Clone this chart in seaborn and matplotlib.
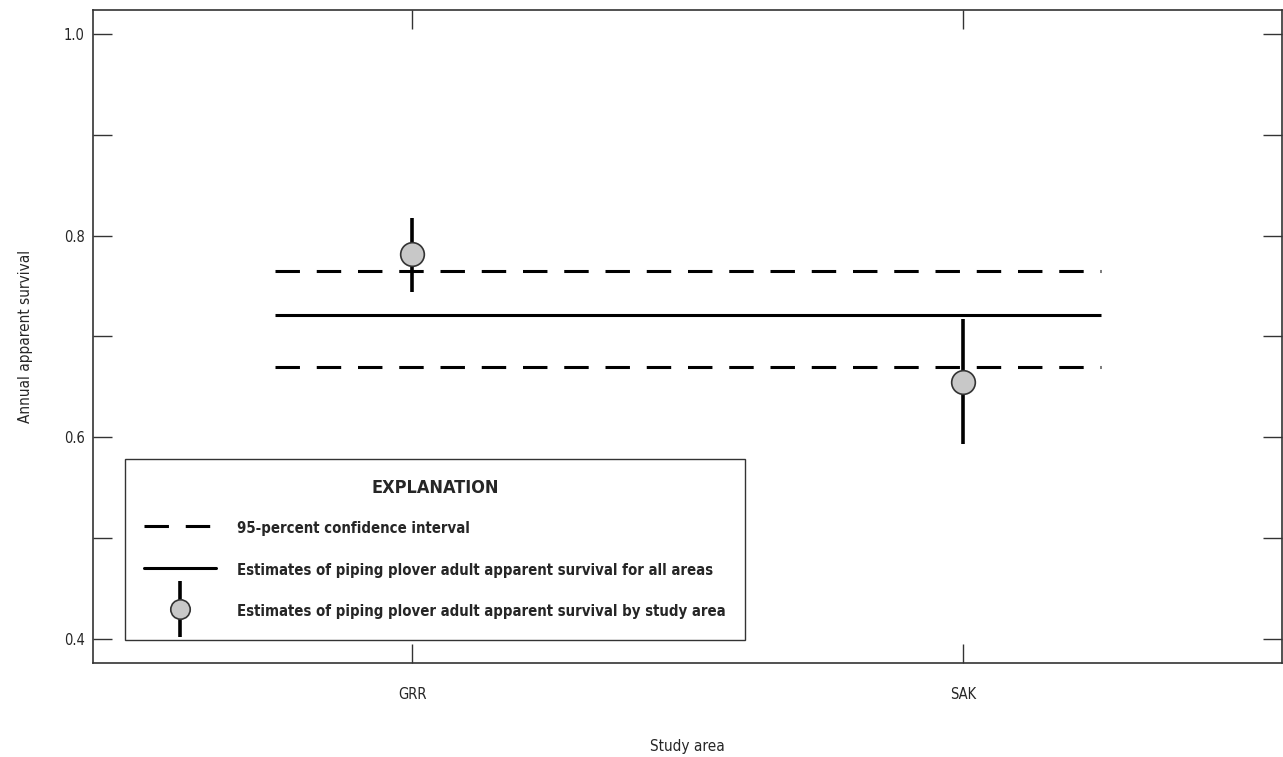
import pandas as pd
import matplotlib.pyplot as plt
import seaborn as sns
from matplotlib.lines import Line2D
from matplotlib.legend_handler import HandlerTuple
from matplotlib.ticker import MultipleLocator

# study area estimates
areas = ["GRR", "SAK"]
survival = [0.782, 0.655]
ci_low = [0.744, 0.593]
ci_high = [0.818, 0.717]

# all areas combined
overall = 0.721
overall_low = 0.670
overall_high = 0.765

sns.set_style("white")
plt.rcParams['font.family'] = ['DejaVu Sans']
plt.rcParams['font.stretch'] = 'condensed'

df = pd.DataFrame({"area": areas, "survival": survival, "low": ci_low, "high": ci_high})

fig = plt.figure(figsize=(12.83, 7.57), dpi=100)
ax = fig.add_axes([0.0725, 0.1242, 0.927, 0.8626])

dash = (0, (8, 5.5))
ax.hlines([overall_low, overall_high], -0.25, 1.25, colors='black', linewidth=2.2, linestyles=dash, zorder=2)
ax.hlines(overall, -0.25, 1.25, colors='black', linewidth=2.2, zorder=2)

ax.vlines(df['area'], df['low'], df['high'], colors='black', linewidth=2.6, zorder=3)
sns.scatterplot(data=df, x='area', y='survival', s=290, color='#c8c8c8',
                edgecolor='#333333', linewidth=1.2, zorder=4, ax=ax)

ax.set_xlim(-0.58, 1.58)
ax.set_ylim(0.376, 1.024)
ax.yaxis.set_major_locator(MultipleLocator(0.2))
ax.yaxis.set_minor_locator(MultipleLocator(0.1))
ax.set_yticklabels([f"{v:.1f}" for v in ax.get_yticks()])
ax.tick_params(axis='both', which='both', direction='in', length=14, width=1.0,
               color='#333333', top=True, right=True, left=True, bottom=True, labelsize=10.5)
ax.tick_params(axis='x', pad=17)
ax.tick_params(axis='y', pad=6)
for s in ax.spines.values():
    s.set_color('#333333')
    s.set_linewidth(1.2)

ax.set_xlabel("Study area", fontsize=11, labelpad=27)
ax.set_ylabel("Annual apparent survival", fontsize=11, labelpad=22)

h_dash = Line2D([], [], color='black', linewidth=2.2, linestyle=(0, (8, 5.5)))
h_solid = Line2D([], [], color='black', linewidth=2.2)
h_bar = Line2D([], [], color='black', marker='|', markersize=40, markeredgewidth=2.6, linestyle='none')
h_pt = Line2D([], [], marker='o', markersize=14, markerfacecolor='#c8c8c8',
              markeredgecolor='#333333', markeredgewidth=1.2, linestyle='none')
leg = ax.legend([h_dash, h_solid, (h_bar, h_pt)],
                ["95-percent confidence interval",
                 "Estimates of piping plover adult apparent survival for all areas",
                 "Estimates of piping plover adult apparent survival by study area"],
                handler_map={tuple: HandlerTuple(ndivide=1)},
                title="EXPLANATION", loc='lower left', bbox_to_anchor=(0.027, 0.035),
                frameon=True, fancybox=False, edgecolor='#333333', framealpha=1,
                handlelength=4.8, handleheight=1.6, labelspacing=1.5, borderpad=1.3,
                handletextpad=1.4, borderaxespad=0, prop={'weight': 'bold', 'size': 10.7})
leg.get_frame().set_linewidth(1.0)
leg.get_title().set_fontweight('bold')
leg.get_title().set_fontsize(13)

fig.savefig("out.png", dpi=100)
